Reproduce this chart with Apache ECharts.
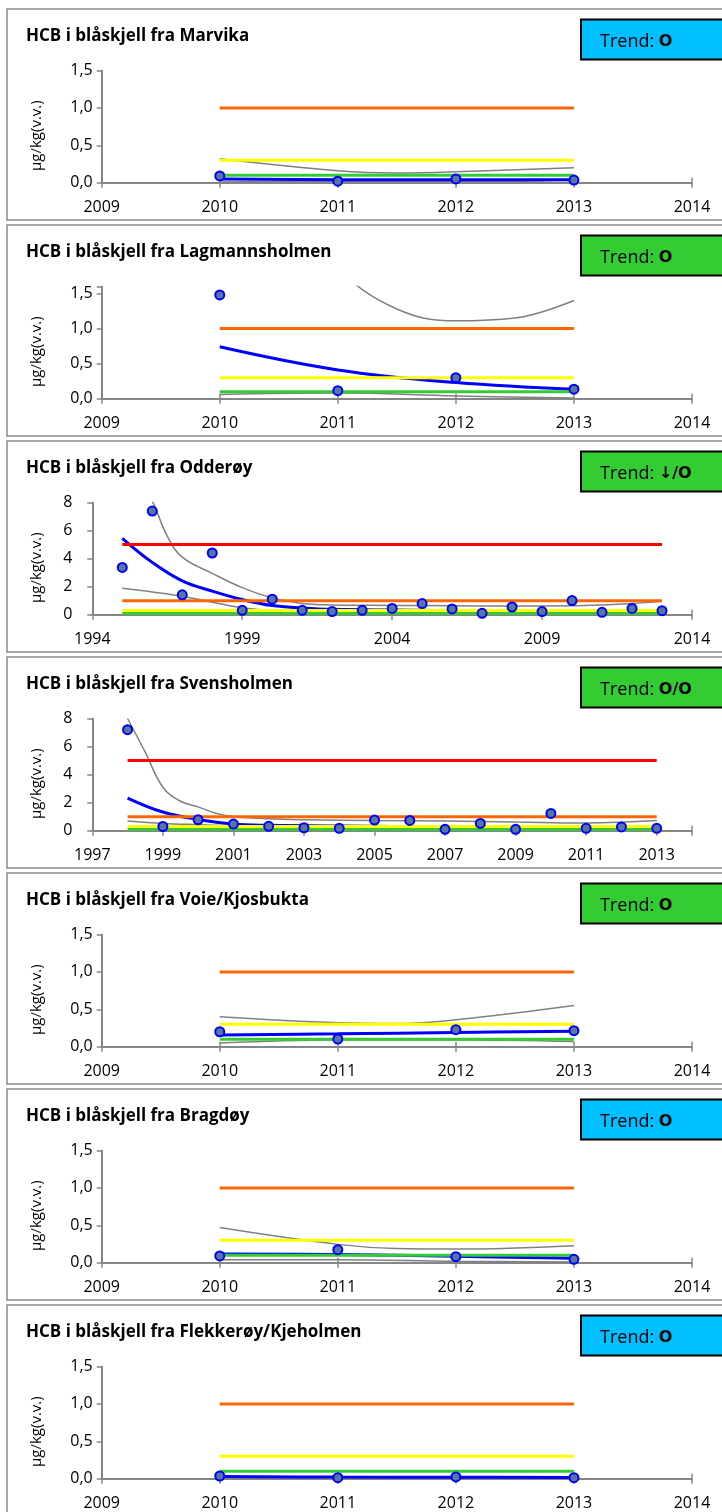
<!DOCTYPE html>
<html>
<head>
<meta charset="utf-8">
<script src="https://cdn.jsdelivr.net/npm/echarts@6.0.0/dist/echarts.min.js"></script>
<style>
  html, body { margin: 0; padding: 0; background: #fff; }
  #chart { width: 722px; height: 1512px; }
</style>
</head>
<body>
<div id="chart"></div>
<script>
// stasjoner og trendvurdering
var stations = ['Marvika', 'Lagmannsholmen', 'Odderøy', 'Svensholmen', 'Voie/Kjosbukta', 'Bragdøy', 'Flekkerøy/Kjeholmen'];
var trendSymbols = ['O', 'O', '↓/O', 'O/O', 'O', 'O', 'O'];
var trendBox = ['blue', 'green', 'green', 'green', 'green', 'blue', 'blue'];

// aksene
var xMins = [2009, 2009, 1994, 1997, 2009, 2009, 2009];
var xMaxs = [2014, 2014, 2014, 2014, 2014, 2014, 2014];
var xSteps = [1, 1, 5, 2, 1, 1, 1];
var yMaxs = [1.5, 1.6, 8, 8, 1.5, 1.5, 1.5];
var ySteps = [0.5, 0.5, 2, 2, 0.5, 0.5, 0.5];

// klassegrenser (µg/kg v.v.)
var classLimits = [0.1, 0.3, 1.0, 5.0];
var classSpanStart = [2010, 2010, 1995, 1998, 2010, 2010, 2010];
var classSpanEnd = [2013, 2013, 2013, 2013, 2013, 2013, 2013];

// Marvika
var marvikaYears = [2010, 2011, 2012, 2013];
var marvikaHcb = [0.09, 0.02, 0.05, 0.035];
var marvikaTrend = [0.05, 0.04, 0.04, 0.04];
var marvikaUpperYears = [2010, 2011, 2011.5, 2012, 2013];
var marvikaUpper = [0.32, 0.16, 0.13, 0.145, 0.2];
var marvikaLowerYears = [2010, 2011, 2012, 2013];
var marvikaLower = [0.01, 0.02, 0.02, 0.0];

// Lagmannsholmen
var lagmYears = [2010, 2011, 2012, 2013];
var lagmHcb = [1.48, 0.115, 0.3, 0.135];
var lagmTrend = [0.74, 0.41, 0.23, 0.135];
var lagmUpperYears = [2010, 2011, 2011.5, 2012, 2012.5, 2013];
var lagmUpper = [3.6, 1.85, 1.28, 1.11, 1.15, 1.4];
var lagmLowerYears = [2010, 2011, 2012, 2013];
var lagmLower = [0.06, 0.08, 0.04, 0.01];

// Odderøy
var odderYears = [1995, 1996, 1997, 1998, 1999, 2000, 2001, 2002, 2003, 2004, 2005, 2006, 2007, 2008, 2009, 2010, 2011, 2012, 2013];
var odderHcb = [3.37, 7.39, 1.42, 4.4, 0.31, 1.11, 0.31, 0.22, 0.31, 0.45, 0.79, 0.41, 0.1, 0.55, 0.22, 1.01, 0.17, 0.45, 0.29];
var odderTrendYears = [1995, 1996, 1997, 1998, 1999, 2000, 2001, 2002, 2004, 2007, 2010, 2013];
var odderTrend = [5.45, 3.73, 2.41, 1.68, 1.08, 0.65, 0.48, 0.38, 0.33, 0.3, 0.3, 0.3];
var odderUpperYears = [1995, 1996, 1996.5, 1997, 1998, 1999, 2000, 2001, 2002, 2004, 2006, 2008, 2010, 2011, 2012, 2013];
var odderUpper = [12, 8.1, 5.6, 4.1, 2.95, 1.93, 1.2, 0.8, 0.7, 0.66, 0.64, 0.62, 0.64, 0.7, 0.8, 0.95];
var odderLowerYears = [1995, 1996, 1997, 1998, 1999, 2000, 2002, 2006, 2010, 2013];
var odderLower = [1.88, 1.62, 1.32, 0.89, 0.5, 0.3, 0.2, 0.2, 0.2, 0.2];

// Svensholmen
var svensYears = [1998, 1999, 2000, 2001, 2002, 2003, 2004, 2005, 2006, 2007, 2008, 2009, 2010, 2011, 2012, 2013];
var svensHcb = [7.2, 0.3, 0.78, 0.47, 0.31, 0.21, 0.17, 0.76, 0.73, 0.1, 0.52, 0.1, 1.23, 0.17, 0.27, 0.17];
var svensTrendYears = [1998, 1999, 2000, 2001, 2002, 2004, 2007, 2010, 2013];
var svensTrend = [2.33, 1.33, 0.8, 0.47, 0.38, 0.33, 0.3, 0.3, 0.3];
var svensUpperYears = [1998, 1998.5, 1999, 1999.5, 2000, 2000.5, 2001, 2002, 2003, 2005, 2007, 2009, 2011, 2013];
var svensUpper = [8.0, 5.6, 3.1, 2.1, 1.7, 1.25, 1.02, 0.85, 0.78, 0.72, 0.7, 0.62, 0.55, 0.72];
var svensLowerYears = [1998, 1999, 2000, 2001, 2003, 2008, 2013];
var svensLower = [0.7, 0.52, 0.43, 0.36, 0.3, 0.3, 0.3];

// Voie/Kjosbukta
var voieYears = [2010, 2011, 2012, 2013];
var voieHcb = [0.2, 0.103, 0.228, 0.214];
var voieTrend = [0.157, 0.172, 0.19, 0.206];
var voieUpperYears = [2010, 2011, 2011.5, 2012, 2013];
var voieUpper = [0.4, 0.32, 0.31, 0.36, 0.55];
var voieLowerYears = [2010, 2011, 2012, 2013];
var voieLower = [0.05, 0.09, 0.09, 0.07];

// Bragdøy
var bragYears = [2010, 2011, 2012, 2013];
var bragHcb = [0.09, 0.174, 0.08, 0.045];
var bragTrend = [0.117, 0.11, 0.085, 0.058];
var bragUpperYears = [2010, 2011, 2011.5, 2012, 2013];
var bragUpper = [0.47, 0.245, 0.19, 0.183, 0.228];
var bragLowerYears = [2010, 2011, 2012, 2013];
var bragLower = [0.04, 0.04, 0.02, 0.01];

// Flekkerøy/Kjeholmen
var flekYears = [2010, 2011, 2012, 2013];
var flekHcb = [0.036, 0.014, 0.023, 0.014];
var flekTrend = [0.03, 0.022, 0.02, 0.015];

// samlet per panel (rekkefølge som stations)
var measYears = [marvikaYears, lagmYears, odderYears, svensYears, voieYears, bragYears, flekYears];
var measValues = [marvikaHcb, lagmHcb, odderHcb, svensHcb, voieHcb, bragHcb, flekHcb];
var trendYears = [marvikaYears, lagmYears, odderTrendYears, svensTrendYears, voieYears, bragYears, flekYears];
var trendValues = [marvikaTrend, lagmTrend, odderTrend, svensTrend, voieTrend, bragTrend, flekTrend];
var upperYears = [marvikaUpperYears, lagmUpperYears, odderUpperYears, svensUpperYears, voieUpperYears, bragUpperYears, null];
var upperValues = [marvikaUpper, lagmUpper, odderUpper, svensUpper, voieUpper, bragUpper, null];
var lowerYears = [marvikaLowerYears, lagmLowerYears, odderLowerYears, svensLowerYears, voieLowerYears, bragLowerYears, null];
var lowerValues = [marvikaLower, lagmLower, odderLower, svensLower, voieLower, bragLower, null];

// ---- stil ----
var FONT = "'Open Sans', sans-serif";
var PANEL_H = 216;
var classColors = ['#33cc33', '#ffff00', '#ff6600', '#ff0000'];
var boxFill = { blue: '#00bfff', green: '#33cc33' };
var axisColor = '#868686';
var gridLeft = [101.7, 101.7, 92.3, 92.3, 101.7, 101.7, 101.7];
var labelMargin = [9, 9, 20, 20, 9, 9, 9];

function zip(xs, ys) {
    return xs.map(function (x, k) { return [x, ys[k]]; });
}
function onStep(v, base, step) {
    var r = (v - base) / step;
    return Math.abs(r - Math.round(r)) < 1e-6;
}

var chart = echarts.init(document.getElementById('chart'), null, { renderer: 'canvas' });

var grids = [], xAxes = [], yAxes = [], series = [], titles = [], graphics = [];

stations.forEach(function (name, i) {
    var top = PANEL_H * i;
    grids.push({ left: gridLeft[i], right: 30, top: top + 70.5, height: 112.2, containLabel: false });

    var xBase = {
        type: 'value', gridIndex: i, position: 'bottom', min: xMins[i], max: xMaxs[i], interval: xSteps[i],
        splitLine: { show: false },
        axisLine: { show: true, lineStyle: { color: axisColor, width: 2 } }
    };
    xAxes.push(Object.assign({}, xBase, {
        axisTick: { show: true, length: 5, lineStyle: { color: axisColor, width: 1.5 } },
        axisLabel: {
            margin: 17, fontFamily: FONT, fontSize: 16, color: '#000',
            formatter: function (v) { return onStep(v, xMins[i], xSteps[i]) ? String(v) : ''; }
        }
    }));
    xAxes.push(Object.assign({}, xBase, {
        axisLine: { show: false },
        axisTick: { show: true, inside: true, length: 5, lineStyle: { color: axisColor, width: 1.5 } },
        axisLabel: { show: false }
    }));

    yAxes.push({
        type: 'value', gridIndex: i, min: 0, max: yMaxs[i], interval: ySteps[i],
        splitLine: { show: false },
        axisLine: { show: true, lineStyle: { color: axisColor, width: 2 } },
        axisTick: { show: true, length: 5, lineStyle: { color: axisColor, width: 1.5 } },
        axisLabel: {
            margin: labelMargin[i], fontFamily: FONT, fontSize: 16, color: '#000',
            formatter: function (v) {
                if (!onStep(v, 0, ySteps[i])) return '';
                return ySteps[i] < 1 ? v.toFixed(1).replace('.', ',') : String(v);
            }
        },
        name: 'µg/kg(v.v.)', nameLocation: 'middle', nameRotate: 90,
        nameGap: gridLeft[i] - 44,
        nameTextStyle: { fontFamily: FONT, fontSize: 15, color: '#000', padding: [0, 18, 0, 0] }
    });

    var xi = 2 * i;
    // konfidensintervall
    if (upperYears[i]) {
        series.push({ type: 'line', xAxisIndex: xi, yAxisIndex: i, z: 2, smooth: 0.4, symbol: 'none',
            data: zip(upperYears[i], upperValues[i]), lineStyle: { color: '#808080', width: 1.5 } });
        series.push({ type: 'line', xAxisIndex: xi, yAxisIndex: i, z: 2, smooth: 0.4, symbol: 'none',
            data: zip(lowerYears[i], lowerValues[i]), lineStyle: { color: '#808080', width: 1.5 } });
    }
    // trend
    series.push({ type: 'line', xAxisIndex: xi, yAxisIndex: i, z: 3, smooth: 0.4, symbol: 'none',
        data: zip(trendYears[i], trendValues[i]), lineStyle: { color: '#0000ff', width: 3 } });
    // klassegrenser
    classLimits.forEach(function (lim, c) {
        if (lim > yMaxs[i]) return;
        series.push({ type: 'line', xAxisIndex: xi, yAxisIndex: i, z: 4, symbol: 'none',
            data: [[classSpanStart[i], lim], [classSpanEnd[i], lim]],
            lineStyle: { color: classColors[c], width: 3 } });
    });
    // målinger
    series.push({ type: 'scatter', xAxisIndex: xi, yAxisIndex: i, z: 5, symbol: 'circle', symbolSize: 9,
        data: zip(measYears[i], measValues[i]),
        itemStyle: { color: '#56789e', borderColor: '#0000ff', borderWidth: 2, opacity: 1 } });

    titles.push({ text: 'HCB i blåskjell fra ' + name, left: 26, top: top + 28, padding: 0,
        textStyle: { fontFamily: FONT, fontSize: 17, fontWeight: 'bold', color: '#000' } });

    graphics.push({ type: 'rect', silent: true, z: 0,
        shape: { x: 7, y: top + 9, width: 760, height: 211 },
        style: { fill: 'none', stroke: '#8c8c8c', lineWidth: 1.5 } });
    graphics.push({ type: 'rect', silent: true, z: 10,
        shape: { x: 581, y: top + 19.5, width: 180, height: 40 },
        style: { fill: boxFill[trendBox[i]], stroke: '#000', lineWidth: 2 } });
    graphics.push({ type: 'text', silent: true, z: 11, x: 600, y: top + 42,
        style: {
            text: 'Trend: {s|' + trendSymbols[i] + '}', fill: '#000',
            fontFamily: FONT, fontSize: 18, verticalAlign: 'middle',
            rich: { s: { fontFamily: "'DejaVu Sans', sans-serif", fontWeight: 'bold', fontSize: 16, fill: '#000' } }
        } });
});

chart.setOption({
    animation: false,
    backgroundColor: '#fff',
    title: titles,
    grid: grids,
    xAxis: xAxes,
    yAxis: yAxes,
    series: series,
    graphic: { elements: graphics },
    tooltip: { show: false }
});
</script>
</body>
</html>
